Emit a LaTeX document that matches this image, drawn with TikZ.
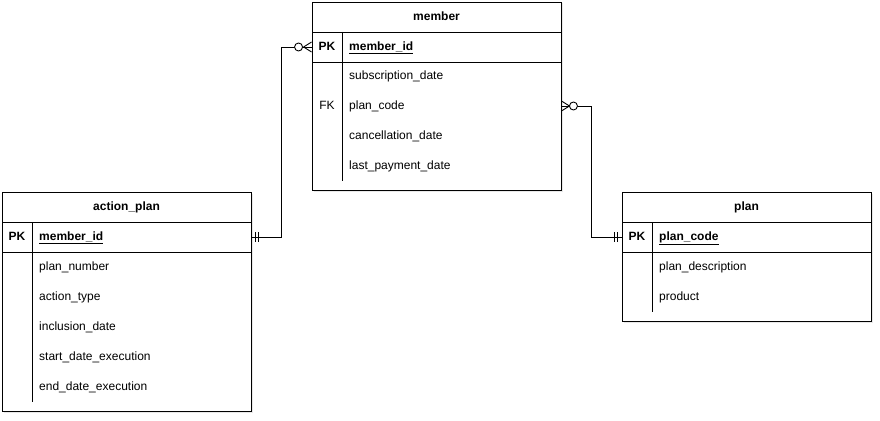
\documentclass[tikz,border=0pt]{standalone}
\usepackage{fontspec}
\setmainfont{Liberation Sans}
\usetikzlibrary{positioning,shadows}

\begin{document}
\begin{tikzpicture}[x=1pt, y=-1pt]
\tikzstyle{entity}=[draw, line width=0.9pt, fill=white, minimum width=249pt, inner sep=0pt, drop shadow={opacity=0.18, shadow xshift=1.5pt, shadow yshift=-1.5pt}];
\tikzstyle{keyrow}=[draw, line width=0.9pt, minimum width=249pt, minimum height=30pt, inner sep=0pt];
\tikzstyle{txt}=[font=\fontsize{12}{14}\selectfont, inner sep=0pt, text height=9.2pt, text depth=1.6pt];
\tikzstyle{title}=[txt, font=\fontsize{12}{14}\selectfont\bfseries];
\tikzstyle{keytag}=[title];
\tikzstyle{keyname}=[title, anchor=west];
\tikzstyle{attr}=[txt, anchor=west];
\tikzstyle{relation}=[line width=0.9pt];
\tikzstyle{ercircle}=[circle, draw, line width=0.9pt, fill=white, minimum size=8pt, inner sep=0pt];
\useasboundingbox (0,0) rectangle (880,420);

% member
\node[entity, minimum height=188pt] (member) at (436.5, 96) {};
\node[keyrow] (member_pk) at (436.5, 47) {};
\node[title] (member_title) at (436.5, 17) {member};
\node[keytag] (member_pk_tag) at (327, 47) {PK};
\node[keyname] (member_id) at (349, 47) {\underline{member\_id}};
\node[attr] (member_subscription) at (349, 76) {subscription\_date};
\node[txt] (member_fk_tag) at (327, 106) {FK};
\node[attr] (member_plan_code) at (349, 106) {plan\_code};
\node[attr] (member_cancellation) at (349, 136) {cancellation\_date};
\node[attr] (member_last_payment) at (349, 166) {last\_payment\_date};
\draw[relation] (342, 32) -- (342, 181);

% action_plan
\node[entity, minimum height=219pt] (action_plan) at (126.5, 301.5) {};
\node[keyrow] (action_plan_pk) at (126.5, 237) {};
\node[title] (action_plan_title) at (126.5, 207) {action\_plan};
\node[keytag] (action_plan_pk_tag) at (17, 237) {PK};
\node[keyname] (action_plan_member_id) at (39, 237) {\underline{member\_id}};
\node[attr] (action_plan_number) at (39, 267) {plan\_number};
\node[attr] (action_plan_type) at (39, 297) {action\_type};
\node[attr] (action_plan_inclusion) at (39, 327) {inclusion\_date};
\node[attr] (action_plan_start) at (39, 357) {start\_date\_execution};
\node[attr] (action_plan_end) at (39, 387) {end\_date\_execution};
\draw[relation] (32, 222) -- (32, 402);

% plan
\node[entity, minimum height=129pt] (plan) at (746.5, 256.5) {};
\node[keyrow] (plan_pk) at (746.5, 237) {};
\node[title] (plan_title) at (746.5, 207) {plan};
\node[keytag] (plan_pk_tag) at (637, 237) {PK};
\node[keyname] (plan_code) at (659, 237) {\underline{plan\_code}};
\node[attr] (plan_description) at (659, 267) {plan\_description};
\node[attr] (plan_product) at (659, 297) {product};
\draw[relation] (652, 222) -- (652, 312);

% action_plan -- member
\draw[relation] (action_plan_pk.east) -- ++(30, 0) |- (member_pk.west);
\draw[relation] ([xshift=4pt, yshift=5pt]action_plan_pk.east) -- ([xshift=4pt, yshift=-5pt]action_plan_pk.east);
\draw[relation] ([xshift=7pt, yshift=5pt]action_plan_pk.east) -- ([xshift=7pt, yshift=-5pt]action_plan_pk.east);
\draw[relation] ([xshift=-8pt]member_pk.west) -- ([yshift=5pt]member_pk.west);
\draw[relation] ([xshift=-8pt]member_pk.west) -- ([yshift=-5pt]member_pk.west);
\node[ercircle] (member_many) at ([xshift=-13pt]member_pk.west) {};

% member -- plan
\draw[relation] (member.east |- member_plan_code.west) -- ++(30, 0) |- (plan_pk.west);
\draw[relation] ([xshift=8pt]member.east |- member_plan_code.west) -- ([yshift=5pt]member.east |- member_plan_code.west);
\draw[relation] ([xshift=8pt]member.east |- member_plan_code.west) -- ([yshift=-5pt]member.east |- member_plan_code.west);
\node[ercircle] (plan_many) at ([xshift=12pt]member.east |- member_plan_code.west) {};
\draw[relation] ([xshift=-4pt, yshift=5pt]plan_pk.west) -- ([xshift=-4pt, yshift=-5pt]plan_pk.west);
\draw[relation] ([xshift=-7pt, yshift=5pt]plan_pk.west) -- ([xshift=-7pt, yshift=-5pt]plan_pk.west);
\end{tikzpicture}
\end{document}
